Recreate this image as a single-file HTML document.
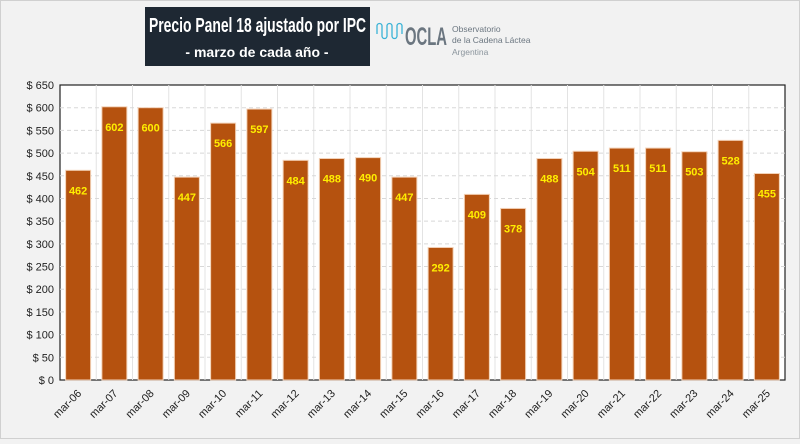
<!DOCTYPE html>
<html><head><meta charset="utf-8"><style>
body{margin:0;width:800px;height:439px;background:#f2f2f2;font-family:"Liberation Sans",sans-serif;overflow:hidden}
</style></head><body>
<svg width="800" height="439" xmlns="http://www.w3.org/2000/svg">
<rect x="0.5" y="0.5" width="799" height="438" fill="#f2f2f2" stroke="#d0d0d0"/>
<rect x="145" y="7" width="225" height="59" fill="#1e2833"/>
<text x="149" y="32" textLength="217" lengthAdjust="spacingAndGlyphs" fill="#fff" font-size="20" font-weight="bold">Precio Panel 18 ajustado por IPC</text>
<text x="257" y="57" text-anchor="middle" fill="#fff" font-size="14" font-weight="bold">- marzo de cada año -</text>
<g>
<path d="M377 34 v-8 a2.5 2.5 0 0 1 5 0 v10 a2.5 2.5 0 0 0 5 0 v-10 a2.5 2.5 0 0 1 5 0 v10 a2.5 2.5 0 0 0 5 0 v-10 a2.5 2.5 0 0 1 5 0 v8" fill="none" stroke="#3bb3d6" stroke-width="1.3"/>
<text x="405" y="45" textLength="42" lengthAdjust="spacingAndGlyphs" fill="#6b7680" font-size="25" font-weight="bold">OCLA</text>
<text x="452" y="32" fill="#6b7680" font-size="8.5">Observatorio</text>
<text x="452" y="43" fill="#6b7680" font-size="8.5">de la Cadena Láctea</text>
<text x="452" y="55" fill="#8a949c" font-size="8.5">Argentina</text>
</g>
<rect x="60" y="85" width="725" height="295" fill="#fff" stroke="#222" stroke-width="1.2"/>
<g id="g"></g>
</svg>
<script>
const categories=["mar-06","mar-07","mar-08","mar-09","mar-10","mar-11","mar-12","mar-13","mar-14","mar-15","mar-16","mar-17","mar-18","mar-19","mar-20","mar-21","mar-22","mar-23","mar-24","mar-25"];
const values=[462,602,600,447,566,597,484,488,490,447,292,409,378,488,504,511,511,503,528,455];
const ticks=[0,50,100,150,200,250,300,350,400,450,500,550,600,650];
const L=60,R=785,T=85,B=380,MAX=650;
const y=v=>B-v/MAX*(B-T);
const bw=(R-L)/categories.length;
const x=i=>L+i*bw;
const NS="http://www.w3.org/2000/svg",g=document.getElementById('g');
function mk(t,a){const e=document.createElementNS(NS,t);for(const k in a)e.setAttribute(k,a[k]);g.appendChild(e);return e;}
for(let i=1;i<categories.length;i++){const e=mk('line',{x1:x(i),x2:x(i),y1:T,y2:B,stroke:'#e3e3e3'});

}
ticks.forEach(t=>{
 if(t>0&&t<MAX){const l=mk('line',{x1:L,x2:R,y1:y(t),y2:y(t),stroke:'#d8d8d8','stroke-dasharray':'4 3'});
 
 }
 const tx=mk('text',{x:L-6,y:y(t)+4,'text-anchor':'end','font-size':'11',fill:'#222'});tx.textContent='$ '+t;
 
 
});
values.forEach((v,i)=>{
 const cx=x(i)+bw/2;
 const r=mk('rect',{x:cx-12.5,y:y(v),width:25,height:B-y(v),fill:'#b5520f',stroke:'#f3d2b8','stroke-width':'1'});
 
 
 const lb=mk('text',{x:cx,y:y(v)+24,'text-anchor':'middle','font-size':'11','font-weight':'bold',fill:'#ffee00'});lb.textContent=v;
 
 
 const c=mk('text',{x:cx+4,y:B+14,'text-anchor':'end','font-size':'11',fill:'#222',transform:`rotate(-45 ${cx+4} ${B+14})`});c.textContent=categories[i];
 
 
});
</script>
</body></html>
